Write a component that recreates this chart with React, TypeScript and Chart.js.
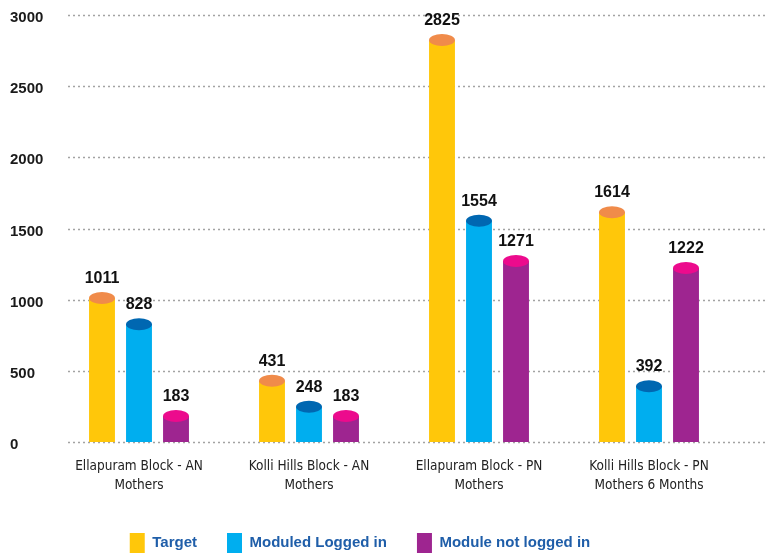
import React, { useEffect, useRef } from "react";
import { Chart, registerables } from "chart.js";

Chart.register(...registerables);

const categories: string[][] = [
  ["Ellapuram Block - AN", "Mothers"],
  ["Kolli Hills Block - AN", "Mothers"],
  ["Ellapuram Block - PN", "Mothers"],
  ["Kolli Hills Block - PN", "Mothers 6 Months"],
];
const seriesNames = ["Target", "Moduled Logged in", "Module not logged in"];
const targetValues = [1011, 431, 2825, 1614];
const loggedInValues = [828, 248, 1554, 392];
const notLoggedInValues = [183, 183, 1271, 1222];
const yMin = 0;
const yMax = 3000;
const yStep = 500;

const bodyColors = ["#FFC70A", "#00AEEF", "#9E2590"];
const capColors = ["#F08B4A", "#0067B1", "#EC0B8D"];

const gridPlugin = {
  id: "dottedGrid",
  beforeDatasetsDraw(chart: any) {
    const { ctx, chartArea } = chart;
    const y = chart.scales.y;
    ctx.save();
    ctx.setLineDash([2, 3]);
    ctx.strokeStyle = "#a3a3a3";
    ctx.lineWidth = 1.5;
    y.ticks.forEach((t: any) => {
      const py = Math.round(y.getPixelForValue(t.value)) + 0.5;
      ctx.beginPath();
      ctx.moveTo(chartArea.left + 14, py);
      ctx.lineTo(chart.width - 6, py);
      ctx.stroke();
    });
    ctx.restore();
  },
};

const legendShiftPlugin = {
  id: "legendShift",
  afterLayout(chart: any) {
    if (chart.legend) {
      chart.legend.left -= 12;
      chart.legend.right -= 12;
    }
  },
};

const cylinderPlugin = {
  id: "cylinderCaps",
  afterDatasetsDraw(chart: any) {
    const { ctx } = chart;
    ctx.save();
    chart.data.datasets.forEach((ds: any, di: number) => {
      const meta = chart.getDatasetMeta(di);
      meta.data.forEach((bar: any, i: number) => {
        const rx = bar.width / 2;
        const ry = 6;
        ctx.beginPath();
        ctx.ellipse(bar.x, bar.y, rx, ry, 0, 0, Math.PI * 2);
        ctx.fillStyle = capColors[di];
        ctx.fill();
        ctx.font = 'bold 16px "Liberation Sans", Arial, sans-serif';
        ctx.fillStyle = "#111";
        ctx.textAlign = "center";
        ctx.textBaseline = "alphabetic";
        ctx.fillText(String(ds.data[i]), bar.x, bar.y - 15);
      });
    });
    ctx.restore();
  },
};

export default function App() {
  const ref = useRef<HTMLCanvasElement | null>(null);
  useEffect(() => {
    if (!ref.current) return;
    const values = [targetValues, loggedInValues, notLoggedInValues];
    const chart = new Chart(ref.current, {
      type: "bar",
      data: {
        labels: categories,
        datasets: seriesNames.map((name, i) => ({
          label: name,
          data: values[i],
          backgroundColor: bodyColors[i],
          borderWidth: 0,
          barPercentage: 0.7,
          categoryPercentage: 0.653,
        })),
      },
      options: {
        animation: false,
        responsive: true,
        maintainAspectRatio: false,
        layout: { padding: { left: 10, right: 37, top: 15, bottom: 0 } },
        plugins: {
          tooltip: { enabled: false },
          legend: {
            position: "bottom",
            labels: {
              boxWidth: 15,
              boxHeight: 20,
              padding: 30,
              color: "#1F5EA9",
              font: { family: '"Liberation Sans", Arial, sans-serif', size: 15, weight: "bold" },
            },
          },
        },
        scales: {
          x: {
            grid: { display: false },
            border: { display: false },
            afterFit: (s: any) => {
              s.height = 61;
            },
            ticks: {
              padding: 7,
              color: "#222",
              maxRotation: 0,
              autoSkip: false,
              font: {
                family: '"DejaVu Sans Condensed", "Liberation Sans", Arial, sans-serif',
                size: 13.5,
                lineHeight: 1.42,
              },
            },
          },
          y: {
            min: yMin,
            max: yMax,
            grid: { display: false },
            border: { display: false },
            afterFit: (s: any) => {
              s.width = 44;
            },
            ticks: {
              stepSize: yStep,
              crossAlign: "far",
              color: "#1a1a1a",
              callback: (v: any) => ["", String(v)],
              font: { family: '"Liberation Sans", Arial, sans-serif', size: 15, weight: "bold", lineHeight: 0.4 },
            },
          },
        },
      },
      plugins: [gridPlugin, cylinderPlugin, legendShiftPlugin],
    } as any);
    return () => chart.destroy();
  }, []);
  return (
    <div style={{ position: "fixed", left: 0, top: 0, width: 771, height: 563, background: "#fff" }}>
      <canvas ref={ref} />
    </div>
  );
}
